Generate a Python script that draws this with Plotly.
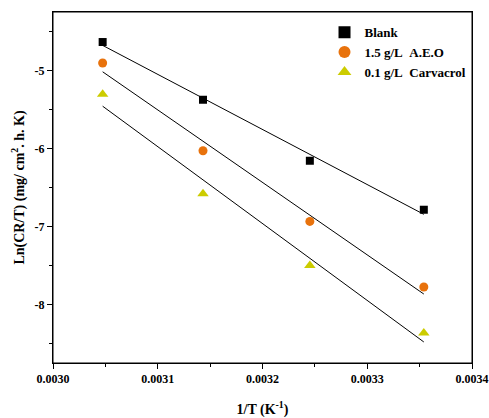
import numpy as np
import plotly.graph_objects as go

inv_T = [0.0030474, 0.0031432, 0.0032452, 0.0033540]
blank = [-4.632, -5.372, -6.154, -6.782]
aeo = [-4.901, -6.026, -6.932, -7.773]
carvacrol = [-5.30, -6.577, -7.496, -8.363]

x_ticks = [0.0030, 0.0031, 0.0032, 0.0033, 0.0034]
x_ticklabels = ["0.0030", "0.0031", "0.0032", "0.0033", "0.0034"]
y_ticks = [-5, -6, -7, -8]
y_ticklabels = ["-5", "-6", "-7", "-8"]

series = [
    ("Blank", blank, "square", "#000000", 8),
    ("1.5 g/L\u00a0\u00a0A.E.O", aeo, "circle", "#E8720C", 9),
    ("0.1 g/L\u00a0\u00a0Carvacrol", carvacrol, "triangle-up", "#CCCC00", 10),
]

font_family = "Liberation Serif, Times New Roman, serif"
fig = go.Figure()
x = np.array(inv_T)
for name, ys, sym, col, sz in series:
    fig.add_trace(go.Scatter(x=inv_T, y=ys, mode="markers", name=name,
                             marker=dict(symbol=sym, color=col, size=sz)))
for name, ys, sym, col, sz in series:
    k, b = np.polyfit(x, np.array(ys), 1)
    fig.add_trace(go.Scatter(x=[x[0], x[-1]], y=[k * x[0] + b, k * x[-1] + b],
                             mode="lines", line=dict(color="black", width=1),
                             showlegend=False, hoverinfo="skip"))

fig.update_layout(
    width=489, height=418,
    margin=dict(l=53, r=17, t=12, b=55, autoexpand=False),
    plot_bgcolor="white", paper_bgcolor="white",
    font=dict(family=font_family, size=12, color="black"),
    legend=dict(x=0.648, y=0.985, xanchor="left", yanchor="top",
                bgcolor="rgba(0,0,0,0)", font=dict(size=13, family=font_family, weight="bold"),
                itemsizing="constant", tracegroupgap=0),
    showlegend=True,
    shapes=[dict(type="rect", xref="paper", yref="paper", x0=0, x1=1, y0=0, y1=1,
                 line=dict(color="black", width=1), fillcolor="rgba(0,0,0,0)", layer="above")],
)
fig.update_xaxes(
    range=[0.0030, 0.0034], tickvals=x_ticks, ticktext=x_ticklabels,
    ticks="outside", ticklen=5, tickwidth=1, tickcolor="black",
    minor=dict(tickvals=[0.00305, 0.00315, 0.00325, 0.00335], ticks="outside", ticklen=3, tickcolor="black"),
    showline=True, linecolor="black", linewidth=1, mirror=True, showgrid=False, zeroline=False,
    automargin=False,
    tickfont=dict(size=12, family=font_family, weight="bold"),
    title=dict(text="1/T (K<sup>-1</sup>)", font=dict(size=14, family=font_family, weight="bold"), standoff=18),
)
fig.update_yaxes(
    range=[-8.747, -4.247], tickvals=y_ticks, ticktext=y_ticklabels,
    ticks="outside", ticklen=5, tickwidth=1, tickcolor="black",
    minor=dict(tickvals=[-4.5, -5.5, -6.5, -7.5, -8.5], ticks="outside", ticklen=3, tickcolor="black"),
    showline=True, linecolor="black", linewidth=1, mirror=True, showgrid=False, zeroline=False,
    automargin=False,
    tickfont=dict(size=12, family=font_family, weight="bold"),
    title=dict(text="Ln(CR/T) (mg/ cm<sup>2</sup>. h. K)", font=dict(size=14, family=font_family, weight="bold"), standoff=6),
)
fig.write_html("out.html", config={"displayModeBar": False},
               post_script="document.body.style.margin='0';document.body.style.overflow='hidden';")
